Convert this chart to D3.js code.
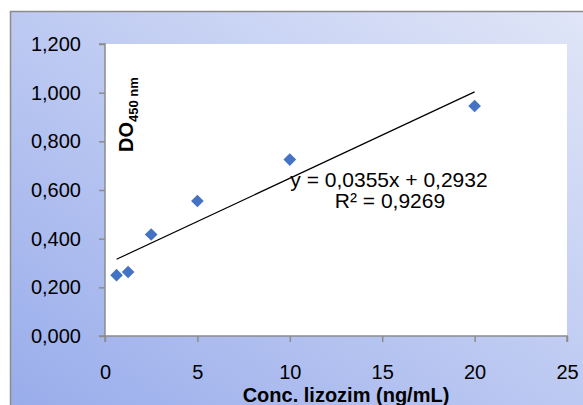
<!DOCTYPE html>
<html>
<head>
<meta charset="utf-8">
<script src="https://cdn.jsdelivr.net/npm/d3@7"></script>
<style>
  body { margin: 0; background: #fff; }
  svg { display: block; font-family: "Liberation Sans", Arial, sans-serif; }
</style>
</head>
<body>
<svg width="583" height="405"></svg>
<script>
// data
var concs = [0.625, 1.25, 2.5, 5, 10, 20];
var absorb = [0.250, 0.263, 0.417, 0.555, 0.725, 0.945];
var xTicks = [0, 5, 10, 15, 20, 25];
var yTicks = [0, 0.2, 0.4, 0.6, 0.8, 1.0, 1.2];
var slope = 0.0355, intercept = 0.2932;
var eqText = "y = 0,0355x + 0,2932";
var r2Text = "R² = 0,9269";

var svg = d3.select("svg"),
    margin = {top: 44, right: 16, bottom: 69, left: 105},
    width = +svg.attr("width") - margin.left - margin.right,
    height = +svg.attr("height") - margin.top - margin.bottom;

// background gradient
var defs = svg.append("defs");
var grad = defs.append("linearGradient")
    .attr("id", "bg")
    .attr("x1", 0).attr("y1", 1)
    .attr("x2", 1).attr("y2", 0);
grad.append("stop").attr("offset", "0%").attr("stop-color", "#97abeb");
grad.append("stop").attr("offset", "100%").attr("stop-color", "#e3e8f8");

svg.append("rect")
    .attr("x", 10.5).attr("y", 11.5)
    .attr("width", 620).attr("height", 420)
    .attr("fill", "url(#bg)")
    .attr("stroke", "#8c8c8c")
    .attr("stroke-width", 1.5);

var g = svg.append("g").attr("transform", "translate(" + margin.left + "," + margin.top + ")");

var x = d3.scaleLinear().domain([0, 25]).range([0, width]),
    y = d3.scaleLinear().domain([0, 1.2]).range([height, 0]);

// plot area
g.append("rect")
    .attr("width", width)
    .attr("height", height)
    .attr("fill", "#fff");

var fmtY = function(d) { return d3.format(".3f")(d).replace(".", ","); };

var xAxis = g.append("g")
    .attr("transform", "translate(0," + height + ")")
    .call(d3.axisBottom(x).tickValues(xTicks).tickSize(6).tickPadding(23));
var yAxis = g.append("g")
    .call(d3.axisLeft(y).tickValues(yTicks).tickFormat(fmtY).tickSize(6).tickPadding(18));

[xAxis, yAxis].forEach(function(a) {
    a.selectAll("path, line").attr("stroke", "#8c8c8c").attr("stroke-width", 1.5);
    a.selectAll("text").attr("fill", "#000").style("font-size", "20px")
        .style("font-family", "'Liberation Sans', Arial, sans-serif");
});
yAxis.select(".domain").attr("d", "M-6," + height + "H0V0H-6");
xAxis.select(".domain").attr("d", "M0,6V0H" + width + "V6");

// trendline
var line = d3.line()
    .x(function(d) { return x(d); })
    .y(function(d) { return y(slope * d + intercept); });
g.append("path")
    .datum([concs[0], concs[concs.length - 1]])
    .attr("d", line)
    .attr("fill", "none")
    .attr("stroke", "#000")
    .attr("stroke-width", 1.2);

// points
g.selectAll(".pt")
    .data(concs)
    .join("path")
    .attr("class", "pt")
    .attr("d", d3.symbol().type(d3.symbolSquare).size(80))
    .attr("transform", function(d, i) {
        return "translate(" + x(d) + "," + y(absorb[i]) + ") rotate(45)";
    })
    .attr("fill", "#4472c4");

// equation
g.append("text")
    .attr("x", 284).attr("y", 143)
    .attr("text-anchor", "middle")
    .style("font-size", "21px")
    .text(eqText);
g.append("text")
    .attr("x", 285).attr("y", 164)
    .attr("text-anchor", "middle")
    .style("font-size", "21px")
    .text(r2Text);

// y axis title
var yt = svg.append("text")
    .attr("transform", "translate(133,152) rotate(-90)")
    .style("font-size", "20px")
    .style("font-weight", "bold");
yt.append("tspan").text("DO");
yt.append("tspan").attr("dy", 5).style("font-size", "13px").text("450 nm");

// x axis title
svg.append("text")
    .attr("x", 346)
    .attr("y", 402)
    .attr("text-anchor", "middle")
    .style("font-size", "20px")
    .style("font-weight", "bold")
    .text("Conc. lizozim (ng/mL)");
</script>
</body>
</html>
